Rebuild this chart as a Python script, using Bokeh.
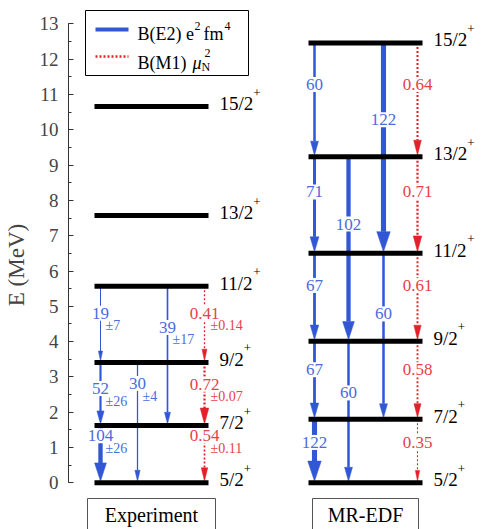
from bokeh.plotting import figure
from bokeh.models import Range1d, SingleIntervalTicker, ColumnDataSource
from bokeh.core.properties import value
from bokeh.embed import file_html
from bokeh.resources import INLINE

# ---------------- data ----------------
spins = ["5/2", "7/2", "9/2", "11/2", "13/2", "15/2"]
E_exp = [0.0, 1.62, 3.41, 5.57, 7.57, 10.66]
E_mr = [0.0, 1.80, 4.01, 6.50, 9.24, 12.46]

# experiment B(E2) [e^2 fm^4] : initial level, final level, value, error
exp_e2_from = [3, 2, 1, 2, 3]
exp_e2_to = [2, 1, 0, 0, 1]
exp_e2_B = [19, 52, 104, 30, 39]
exp_e2_err = [7, 26, 26, 4, 17]
# experiment B(M1) [mu_N^2]
exp_m1_from = [3, 2, 1]
exp_m1_to = [2, 1, 0]
exp_m1_B = [0.41, 0.72, 0.54]
exp_m1_err = [0.14, 0.07, 0.11]

# MR-EDF B(E2)
mr_e2_from = [5, 4, 3, 2, 1, 4, 2, 5, 3]
mr_e2_to = [4, 3, 2, 1, 0, 2, 0, 3, 1]
mr_e2_B = [60, 71, 67, 67, 122, 102, 60, 122, 60]
# MR-EDF B(M1)
mr_m1_from = [5, 4, 3, 2, 1]
mr_m1_to = [4, 3, 2, 1, 0]
mr_m1_B = [0.64, 0.71, 0.61, 0.58, 0.35]

# ---------------- layout ----------------
FONT = "Liberation Serif"
BLUE = "#3157d5"
BLUE_T = "#4a6cdc"
RED = "#e3202b"
RED_T = "#e8404a"
W, H = 489, 529
K = 35.3                      # px per MeV
Y0 = 482.3                    # px (from top) of E = 0
ymax = Y0 / K
ymin = (Y0 - H) / K


def E_at(py):                 # pixel y -> energy coordinate (layout helper)
    return (Y0 - py) / K


COL_LEFT = {"exp": 94, "mr": 308}
LEVEL_W = 114
SLOTS = {"exp": [6, 43, 73, 110], "mr": [6, 40, 75, 109]}
exp_e2_slot = [0, 0, 0, 1, 2]
mr_e2_slot = [0, 0, 0, 0, 0, 1, 1, 2, 2]
# label anchor energies for experiment (placed by hand in the original)
exp_e2_lab = [4.80, 2.67, 1.33, 2.81, 4.40]
exp_m1_lab = [4.80, 2.79, 1.33]

p = figure(width=W, height=H, output_backend="svg", toolbar_location=None,
           x_range=Range1d(68, 489), y_range=Range1d(ymin, ymax),
           x_axis_location=None, min_border_left=68, min_border_right=0,
           min_border_top=0, min_border_bottom=0)
p.grid.visible = False
p.outline_line_color = None
p.background_fill_color = "white"

ax = p.yaxis[0]
ax.ticker = SingleIntervalTicker(interval=1, num_minor_ticks=2)
ax.bounds = (0, 13)
ax.axis_label = "E (MeV)"
ax.axis_label_text_font = FONT
ax.axis_label_text_font_style = "normal"
ax.axis_label_text_font_size = "23px"
ax.axis_label_standoff = 8
ax.major_label_text_font = FONT
ax.major_label_text_font_size = "19px"
ax.major_label_standoff = 10
ax.major_tick_in = 5
ax.major_tick_out = 0
ax.minor_tick_in = 3
ax.minor_tick_out = 0
ax.axis_line_color = "#333333"
ax.major_tick_line_color = "#333333"
ax.minor_tick_line_color = "#333333"

# ---------------- transitions ----------------
e2_seg = dict(x=[], y0=[], y1=[], lw=[])
e2_head = dict(xs=[], ys=[])
m1_seg = dict(x=[], y0=[], y1=[], lw=[])
m1_head = dict(xs=[], ys=[])
val_e2 = dict(x=[], y=[], t=[])
val_m1 = dict(x=[], y=[], t=[])
err_e2 = dict(x=[], y=[], t=[])
err_m1 = dict(x=[], y=[], t=[])


def add_arrow(seg, head, x, Ei, Ef, lw, hw, hl):
    tip = Ef + 1.5 / K
    base = tip + hl / K
    seg["x"].append(x)
    seg["y0"].append(Ei)
    seg["y1"].append(base)
    seg["lw"].append(lw)
    head["xs"].append([x - hw / 2, x + hw / 2, x])
    head["ys"].append([base, base, tip])


def e2_style(B):
    return max(0.042 * B, 1.0), 2.5 + 0.09 * B, 8 + 0.1 * B


def m1_style(B):
    return 3.2 * B, 12 * B, 6 + 14 * B


for col, Es, fr, to, Bs, slots in (("exp", E_exp, exp_e2_from, exp_e2_to, exp_e2_B, exp_e2_slot),
                                   ("mr", E_mr, mr_e2_from, mr_e2_to, mr_e2_B, mr_e2_slot)):
    for k, (i, f, B, sl) in enumerate(zip(fr, to, Bs, slots)):
        x = COL_LEFT[col] + SLOTS[col][sl]
        add_arrow(e2_seg, e2_head, x, Es[i], Es[f], *e2_style(B))
        if col == "exp":
            yl = exp_e2_lab[k]
            err_e2["x"].append(x + 5)
            err_e2["y"].append(yl - 12.5 / K)
            err_e2["t"].append("±%d" % exp_e2_err[k])
        else:
            yl = Es[i] - 0.365 * (Es[i] - Es[f])
        val_e2["x"].append(x)
        val_e2["y"].append(yl)
        val_e2["t"].append("%d" % B)

for col, Es, fr, to, Bs in (("exp", E_exp, exp_m1_from, exp_m1_to, exp_m1_B),
                            ("mr", E_mr, mr_m1_from, mr_m1_to, mr_m1_B)):
    for k, (i, f, B) in enumerate(zip(fr, to, Bs)):
        x = COL_LEFT[col] + SLOTS[col][3]
        add_arrow(m1_seg, m1_head, x, Es[i], Es[f], *m1_style(B))
        if col == "exp":
            yl = exp_m1_lab[k]
            err_m1["x"].append(x + 6)
            err_m1["y"].append(yl - 12.5 / K)
            err_m1["t"].append("±%.2f" % exp_m1_err[k])
        else:
            yl = Es[i] - 0.365 * (Es[i] - Es[f])
        val_m1["x"].append(x)
        val_m1["y"].append(yl)
        val_m1["t"].append("%.2f" % B)

p.segment(x0="x", y0="y0", x1="x", y1="y1", source=ColumnDataSource(e2_seg),
          line_width="lw", line_color=BLUE)
p.patches(xs="xs", ys="ys", source=ColumnDataSource(e2_head), fill_color=BLUE,
          line_color=BLUE, line_width=0.5)
p.segment(x0="x", y0="y0", x1="x", y1="y1", source=ColumnDataSource(m1_seg),
          line_width="lw", line_color=RED, line_dash="2 2")
p.patches(xs="xs", ys="ys", source=ColumnDataSource(m1_head), fill_color=RED,
          line_color=RED, line_width=0.5)

for src, col in ((val_e2, BLUE_T), (val_m1, RED_T)):
    p.text(x="x", y="y", text="t", source=ColumnDataSource(src), text_font=value(FONT),
           text_font_size=value("17px"), text_align="center", text_baseline="middle",
           text_color=col, background_fill_color="white", padding=2)
for src, col in ((err_e2, BLUE_T), (err_m1, RED_T)):
    p.text(x="x", y="y", text="t", source=ColumnDataSource(src), text_font=value(FONT),
           text_font_size=value("14px"), text_align="left", text_baseline="middle",
           text_color=col)

# ---------------- levels (drawn on top) ----------------
lev = dict(x0=[], x1=[], y=[], lx=[], ly=[], lt=[], px=[], py=[])
for col, Es in (("exp", E_exp), ("mr", E_mr)):
    left = COL_LEFT[col]
    for s, E in zip(spins, Es):
        lev["x0"].append(left)
        lev["x1"].append(left + LEVEL_W)
        lev["y"].append(E)
        lx = left + LEVEL_W + 11
        lev["lx"].append(lx)
        lev["ly"].append(E + 3 / K)
        lev["lt"].append(s)
        wtxt = 19 * (0.5 * (len(s) - 1) + 0.278)
        lev["px"].append(lx + wtxt)
        lev["py"].append(E + 14 / K)
ls = ColumnDataSource(lev)
p.segment(x0="x0", y0="y", x1="x1", y1="y", source=ls, line_width=5, line_color="black")
p.text(x="lx", y="ly", text="lt", source=ls, text_font=value(FONT),
       text_font_size=value("19px"), text_align="left", text_baseline="middle",
       text_color="black")
p.text(x="px", y="py", text=value("+"), source=ls, text_font=value(FONT),
       text_font_size=value("13px"), text_align="left", text_baseline="middle",
       text_color="black")

# ---------------- legend ----------------
p.quad(left=[85], right=[248], top=[E_at(10)], bottom=[E_at(75)],
       fill_color="white", line_color="black", line_width=1)
p.segment(x0=[95], x1=[128], y0=[E_at(29)], y1=[E_at(29)], line_width=4, line_color=BLUE)
p.segment(x0=[95], x1=[128], y0=[E_at(56)], y1=[E_at(56)], line_width=2.5,
          line_color=RED, line_dash="2 2")
leg_main = dict(x=[137, 203, 137], y=[E_at(33), E_at(33), E_at(62)], t=["B(E2) e", "fm", "B(M1)"])
leg_sup = dict(x=[194, 224, 204], y=[E_at(25), E_at(25), E_at(52)], t=["2", "4", "2"])
p.text(x="x", y="y", text="t", source=ColumnDataSource(leg_main), text_font=value(FONT),
       text_font_size=value("18px"), text_align="left", text_baseline="middle", text_color="black")
p.text(x="x", y="y", text="t", source=ColumnDataSource(leg_sup), text_font=value(FONT),
       text_font_size=value("12px"), text_align="left", text_baseline="middle", text_color="black")
p.text(x=[192], y=[E_at(62)], text=["μ"], text_font=value(FONT), text_font_style="italic",
       text_font_size=value("18px"), text_align="left", text_baseline="middle", text_color="black")
p.text(x=[201], y=[E_at(66)], text=["N"], text_font=value(FONT),
       text_font_size=value("12px"), text_align="left", text_baseline="middle", text_color="black")

# ---------------- column boxes ----------------
p.quad(left=[87, 312], right=[215, 418], top=[E_at(498)] * 2, bottom=[E_at(545)] * 2,
       fill_color="white", line_color="#555555", line_width=1)
p.text(x=[151, 365], y=[E_at(514)] * 2, text=["Experiment", "MR-EDF"], text_font=value(FONT),
       text_font_size=value("20px"), text_align="center", text_baseline="middle",
       text_color="black")

open("out.html", "w").write(file_html(p, INLINE))
